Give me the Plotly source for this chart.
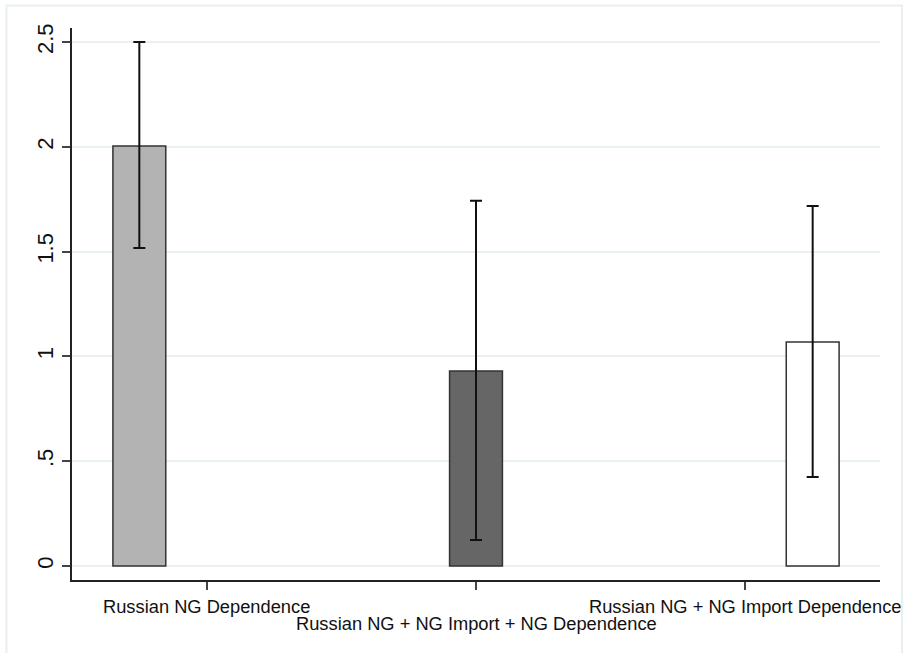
import plotly.graph_objects as go

categories = ["Russian NG Dependence", "Russian NG + NG Import + NG Dependence", "Russian NG + NG Import Dependence"]
bar_x = [1, 2, 3]
tick_x = [1.2, 2.0, 2.8]
means = [2.004, 0.930, 1.069]
upper = [2.500, 1.743, 1.718]
lower = [1.517, 0.124, 0.425]
colors = ["#b3b3b3", "#666666", "#ffffff"]
y_ticks = [0, 0.5, 1, 1.5, 2, 2.5]
y_labels = ["0", ".5", "1", "1.5", "2", "2.5"]
label_rows = [0, 1, 0]

fig = go.Figure()
fig.add_trace(go.Bar(
    x=bar_x, y=means, width=0.157,
    marker=dict(color=colors, line=dict(color="#333333", width=1.5)),
    error_y=dict(type="data", symmetric=False,
                 array=[u - m for u, m in zip(upper, means)],
                 arrayminus=[m - l for m, l in zip(means, lower)],
                 color="#111111", thickness=2, width=6),
    showlegend=False,
))

W, H = 903, 653
L, R, T, B = 72, 23, 28, 73
pw, ph = W - L - R, H - T - B

def px_to_paper_x(px):
    return (px - L) / pw

def px_to_paper_y(py):
    return (H - B - py) / ph

annotations = []
for xv, lab, row in zip(tick_x, categories, label_rows):
    annotations.append(dict(
        x=xv, xref="x", y=px_to_paper_y(606 + 17 * row), yref="paper",
        text=lab, showarrow=False, xanchor="center", yanchor="middle",
        font=dict(family="Liberation Sans, Arial", size=18.3, color="#111111"),
    ))

fig.update_layout(
    width=W, height=H,
    margin=dict(l=L, r=R, t=T, b=B),
    paper_bgcolor="white", plot_bgcolor="white",
    annotations=annotations,
    shapes=[dict(type="rect", xref="paper", yref="paper",
                 x0=px_to_paper_x(6.5), x1=px_to_paper_x(902), y0=px_to_paper_y(660), y1=px_to_paper_y(5.5),
                 line=dict(color="#e8eff3", width=2), layer="below")],
    xaxis=dict(range=[0.8, 3.2], tickvals=tick_x, ticktext=["", "", ""],
               showgrid=False, zeroline=False, showline=True, linecolor="#222222", linewidth=1.5,
               ticks="outside", ticklen=8, tickwidth=1.5, tickcolor="#444444", fixedrange=True),
    yaxis=dict(range=[-0.067, 2.567], tickvals=y_ticks, ticktext=y_labels, tickangle=-90,
               showgrid=True, gridcolor="#eaf1f3", gridwidth=2, zeroline=False,
               showline=True, linecolor="#222222", linewidth=1.5,
               ticks="outside", ticklen=8, tickwidth=1.5, tickcolor="#444444",
               tickfont=dict(family="Liberation Sans, Arial", size=22, color="#111111"),
               fixedrange=True),
    font=dict(family="Liberation Sans, Arial", color="#111111"),
)

fig.write_html("out.html")
